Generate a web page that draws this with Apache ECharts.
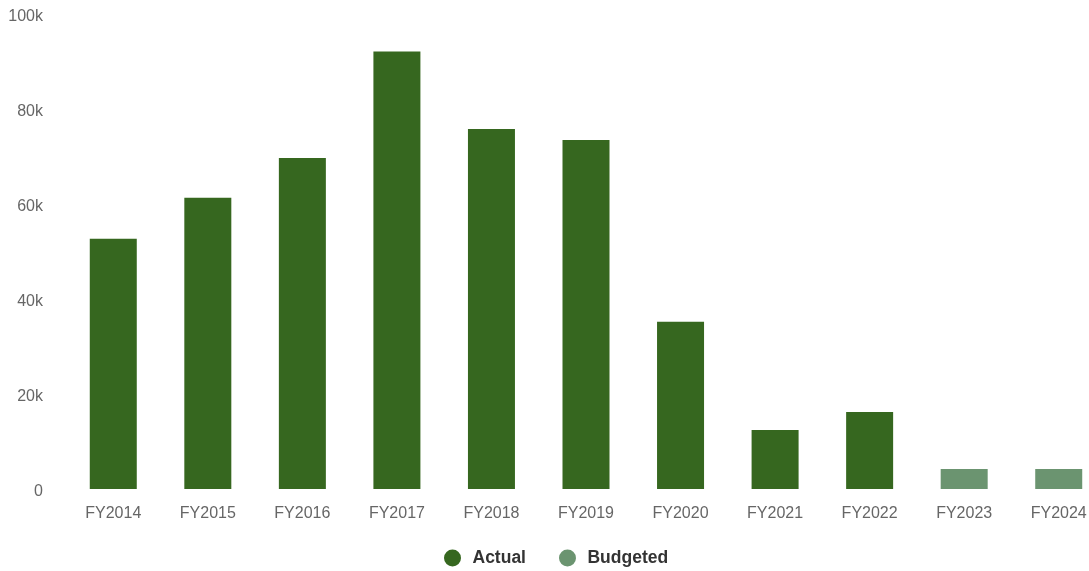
<!DOCTYPE html>
<html>
<head>
<meta charset="utf-8">
<script src="https://cdn.jsdelivr.net/npm/echarts@6/dist/echarts.min.js"></script>
<style>
  html, body { margin: 0; padding: 0; background: #ffffff; overflow: hidden; }
  #chart { width: 1106px; height: 571px; }
</style>
</head>
<body>
<div id="chart"></div>
<script>
// Fiscal years on the category axis
const categories = ['FY2014', 'FY2015', 'FY2016', 'FY2017', 'FY2018', 'FY2019', 'FY2020', 'FY2021', 'FY2022', 'FY2023', 'FY2024'];
// Actual spend per year (null where only a budget exists)
const actualValues = [52700, 61300, 69700, 92100, 75800, 73500, 35200, 12400, 16200, null, null];
// Budgeted spend for the upcoming years
const budgetedValues = [null, null, null, null, null, null, null, null, null, 4200, 4200];

const chart = echarts.init(document.getElementById('chart'), null, { renderer: 'canvas' });

const fontFamily = 'Liberation Sans, Arial, Helvetica, sans-serif';

chart.setOption({
  animation: false,
  backgroundColor: '#ffffff',
  grid: { left: 66, top: 14, right: 0, bottom: 82, containLabel: false },
  legend: {
    top: 544,
    left: 439,
    icon: 'circle',
    itemWidth: 30,
    itemHeight: 17,
    itemGap: 33,
    textStyle: { color: '#333333', fontSize: 17.5, fontWeight: 'bold', fontFamily: fontFamily },
    data: ['Actual', 'Budgeted']
  },
  xAxis: {
    type: 'category',
    data: categories,
    axisLine: { show: false },
    axisTick: { show: false },
    axisLabel: { color: '#666666', fontSize: 16, margin: 17, fontFamily: fontFamily }
  },
  yAxis: {
    type: 'value',
    min: 0,
    max: 100000,
    interval: 20000,
    splitLine: { show: false },
    axisLine: { show: false },
    axisTick: { show: false },
    axisLabel: {
      margin: 23,
      formatter: v => '{t|' + (v === 0 ? '0' : (v / 1000) + 'k') + '}',
      rich: {
        t: { color: '#666666', fontSize: 16, fontFamily: fontFamily, padding: [5, 0, 0, 0] }
      }
    }
  },
  series: [
    {
      name: 'Actual',
      type: 'bar',
      stack: 'total',
      barWidth: 47,
      itemStyle: { color: '#36671f' },
      data: actualValues
    },
    {
      name: 'Budgeted',
      type: 'bar',
      stack: 'total',
      barWidth: 47,
      itemStyle: { color: '#6b9470' },
      data: budgetedValues
    }
  ]
});
</script>
</body>
</html>
